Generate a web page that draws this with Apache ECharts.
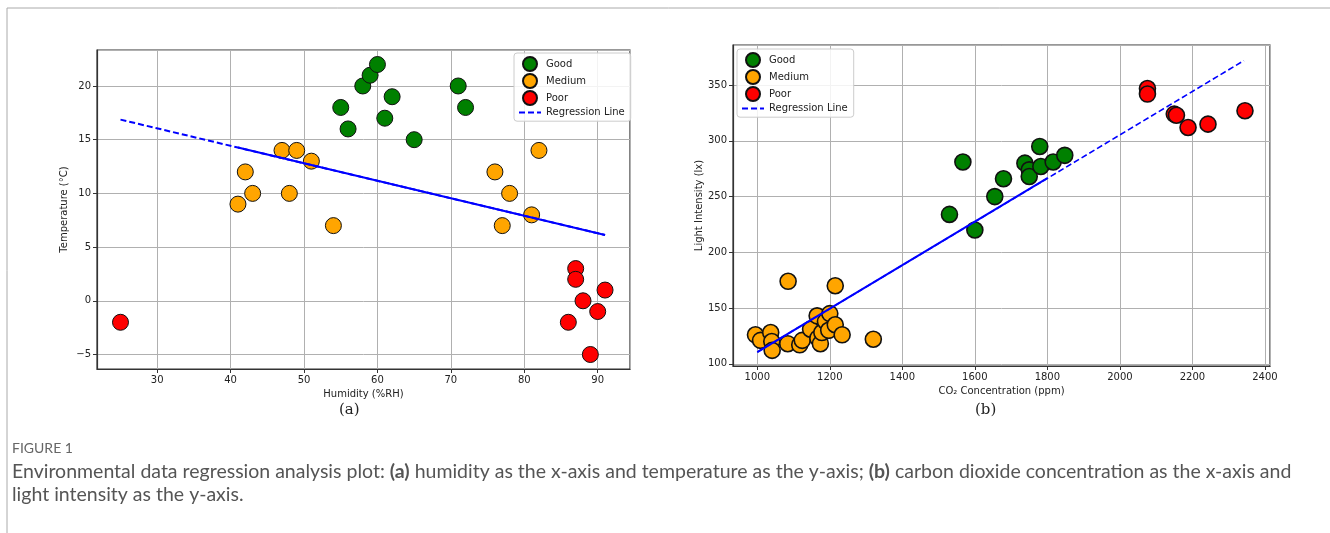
<!DOCTYPE html>
<html>
<head>
<meta charset="utf-8">
<script src="https://cdn.jsdelivr.net/npm/echarts@6/dist/echarts.min.js"></script>
<style>
html,body{margin:0;padding:0;background:#fff;}
#main{width:1330px;height:533px;}
</style>
</head>
<body>
<div id="main"></div>
<script>
// ---- Panel (a): humidity vs temperature ----
const humidityGood = [55, 56, 58, 59, 60, 61, 62, 65, 71, 72];
const temperatureGood = [18, 16, 20, 21, 22, 17, 19, 15, 20, 18];
const humidityMedium = [41, 42, 43, 47, 48, 49, 51, 54, 76, 77, 78, 81, 82];
const temperatureMedium = [9, 12, 10, 14, 10, 14, 13, 7, 12, 7, 10, 8, 14];
const humidityPoor = [25, 86, 87, 87, 88, 89, 90, 91];
const temperaturePoor = [-2, -2, 3, 2, 0, -5, -1, 1];
const regAX = [25, 91];
const regAY = [16.87, 6.13];
const regAFitX = [41, 91];
const regAFitY = [14.27, 6.13];

// ---- Panel (b): CO2 vs light intensity ----
const co2Good = [1530, 1567, 1600, 1655, 1679, 1738, 1750, 1750, 1779, 1782, 1816, 1848];
const lightGood = [234, 281, 220, 250, 266, 280, 274, 268, 295, 277, 281, 287];
const co2Medium = [995, 1009, 1037, 1040, 1041, 1084, 1085, 1117, 1124, 1147, 1165, 1167, 1174, 1178, 1188, 1197, 1200, 1215, 1215, 1234, 1320];
const lightMedium = [126, 121, 128, 120, 112, 118, 174, 117, 121, 131, 143, 123, 118, 128, 138, 130, 145, 135, 170, 126, 122];
const co2Poor = [2076, 2076, 2150, 2156, 2188, 2243, 2345];
const lightPoor = [347, 342, 324, 323, 312, 315, 327];
const regBX = [1000, 2342];
const regBY = [110.5, 372];
const regBFitX = [1000, 1800];
const regBFitY = [110.5, 266.5];

const categories = ['Good', 'Medium', 'Poor', 'Regression Line'];
const colors = {Good: '#008000', Medium: '#FFA500', Poor: '#FF0000'};

function zip(xs, ys) { return xs.map((x, i) => [x, ys[i]]); }

const chart = echarts.init(document.getElementById('main'));
const tickFont = {fontFamily: 'DejaVu Sans', fontSize: 10, color: '#222'};

function valueAxis(gridIndex, min, max, splitNumber, name, isY) {
  return {
    type: 'value', gridIndex, min, max, splitNumber,
    name, nameLocation: 'middle', nameGap: isY ? 28 : 19,
    nameTextStyle: {fontFamily: 'DejaVu Sans', fontSize: 10, color: '#222'},
    axisLine: {show: true, onZero: false, lineStyle: {color: '#333', width: 1.2}},
    axisTick: {show: true, inside: false, length: 4, lineStyle: {color: '#333'}},
    axisLabel: Object.assign({margin: 6, showMinLabel: false, showMaxLabel: false,
      formatter: v => (v < 0 ? '\u2212' + Math.abs(v) : String(v))}, tickFont),
    splitLine: {show: true, lineStyle: {color: '#b0b0b0', width: 1}}
  };
}

function scatter(name, data, xi, yi, bw) {
  return {
    type: 'scatter', name, xAxisIndex: xi, yAxisIndex: yi, data,
    symbolSize: 16, z: 3,
    itemStyle: {color: colors[name], borderColor: '#111', borderWidth: bw, opacity: 1}
  };
}
function line(name, data, xi, yi, dashed, width) {
  return {
    type: 'line', name, xAxisIndex: xi, yAxisIndex: yi, data,
    symbol: 'none', z: 5, silent: true,
    lineStyle: {color: '#0000ff', width, type: dashed ? [6, 3] : 'solid'},
    itemStyle: {color: '#0000ff'}
  };
}

const legendData = ['Good', 'Medium', 'Poor',
  {name: 'Regression Line', itemStyle: {opacity: 0, borderWidth: 0}}];

const legendCommon = {
  orient: 'vertical', data: legendData, itemWidth: 22, itemHeight: 14, itemGap: 1,
  padding: [3, 6, 3, 4], backgroundColor: 'rgba(255,255,255,0.85)',
  borderColor: '#ccc', borderWidth: 1, borderRadius: 3,
  textStyle: {fontFamily: 'DejaVu Sans', fontSize: 10, color: '#222'},
  selectedMode: false
};

const option = {
  animation: false,
  backgroundColor: '#fff',
  grid: [
    {left: 97, top: 50, width: 533, height: 319, show: true, borderColor: '#333', borderWidth: 1.2, backgroundColor: 'transparent'},
    {left: 733, top: 45, width: 537, height: 321, show: true, borderColor: '#333', borderWidth: 1.2, backgroundColor: 'transparent'}
  ],
  xAxis: [
    valueAxis(0, 21.8, 94.4, 7, 'Humidity (%RH)', false),
    valueAxis(1, 933, 2414, 7, 'CO\u2082 Concentration (ppm)', false)
  ],
  yAxis: [
    valueAxis(0, -6.35, 23.35, 6, 'Temperature (\u00B0C)', true),
    valueAxis(1, 98, 386, 6, 'Light Intensity (lx)', true)
  ],
  legend: [
    Object.assign({}, legendCommon, {left: 514, top: 53}),
    Object.assign({}, legendCommon, {left: 737, top: 49})
  ],
  series: [
    scatter('Good', zip(humidityGood, temperatureGood), 0, 0, 1),
    scatter('Medium', zip(humidityMedium, temperatureMedium), 0, 0, 1),
    scatter('Poor', zip(humidityPoor, temperaturePoor), 0, 0, 1),
    line('Regression Line', zip(regAX, regAY), 0, 0, true, 2),
    line('fitA', zip(regAFitX, regAFitY), 0, 0, false, 2),
    scatter('Good', zip(co2Good, lightGood), 1, 1, 1.6),
    scatter('Medium', zip(co2Medium, lightMedium), 1, 1, 1.6),
    scatter('Poor', zip(co2Poor, lightPoor), 1, 1, 1.6),
    line('Regression Line', zip(regBX, regBY), 1, 1, true, 1.6),
    line('fitB', zip(regBFitX, regBFitY), 1, 1, false, 2)
  ],
  graphic: [
    {type: 'line', shape: {x1: 7, y1: 8, x2: 1330, y2: 8}, style: {stroke: '#aaa', lineWidth: 1}},
    {type: 'line', shape: {x1: 7, y1: 8, x2: 7, y2: 533}, style: {stroke: '#aaa', lineWidth: 1}},
    {type: 'text', left: 339, top: 403, style: {text: '(a)', font: '15px "DejaVu Serif"', fill: '#222'}},
    {type: 'text', left: 975, top: 403, style: {text: '(b)', font: '15px "DejaVu Serif"', fill: '#222'}},
    {type: 'text', left: 12, top: 441, style: {text: 'FIGURE 1', font: '14px Lato', fill: '#666'}},
    {type: 'text', left: 12, top: 462, style: {
      text: 'Environmental data regression analysis plot: {b|(a)} humidity as the x-axis and temperature as the y-axis; {b|(b)} carbon dioxide concentration as the x-axis and',
      font: '19.5px Lato', fill: '#555',
      rich: {b: {fontFamily: 'Lato', fontSize: 19.5, fontWeight: 'bold', fill: '#555'}}
    }},
    {type: 'text', left: 12, top: 485, style: {text: 'light intensity as the y-axis.', font: '19.5px Lato', fill: '#555'}}
  ]
};
chart.setOption(option);
</script>
</body>
</html>
